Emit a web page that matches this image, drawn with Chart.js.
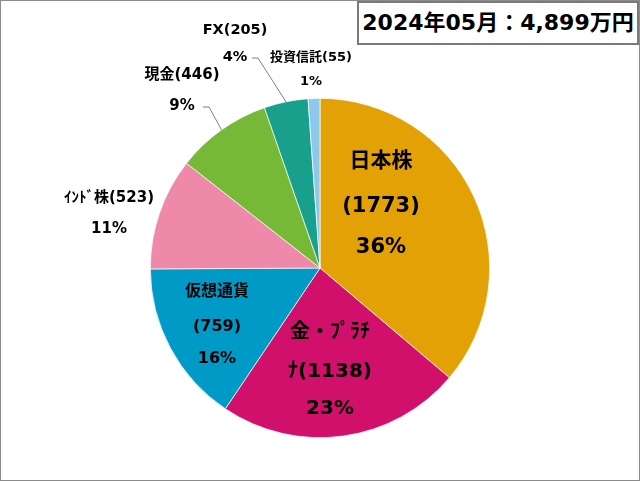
<!DOCTYPE html>
<html>
<head>
<meta charset="utf-8">
<script src="https://cdn.jsdelivr.net/npm/chart.js@4"></script>
<style>
    body { margin: 0; background: #fff; }
    #frame {
        position: relative; width: 640px; height: 481px; box-sizing: border-box;
        border: 1px solid #8c8c8c; background: #fff;
    }
    #chart { position: absolute; left: 0; top: 0; }
    #title {
        position: absolute; left: 356px; top: 0px; width: 282px; height: 44px; box-sizing: border-box;
        border: 2px solid #7a7a7a; background: #fff;
        font: bold 22px 'DejaVu Sans', 'Noto Sans CJK JP', sans-serif; color: #000;
        text-align: center; line-height: 40px; white-space: nowrap;
    }
</style>
</head>
<body>
<div id="frame">
    <canvas id="chart" width="638" height="479"></canvas>
    <div id="title"></div>
</div>
<script>
// dati
const categories = ['日本株', '金・ﾌﾟﾗﾁﾅ', '仮想通貨', 'ｲﾝﾄﾞ株', '現金', 'FX', '投資信託'];
const values = [1773, 1138, 759, 523, 446, 205, 55];
const percents = [36, 23, 16, 11, 9, 4, 1];
const titleMonth = '2024年05月';
const titleTotal = '4,899万円';

const colors = ['#E2A104', '#D0106A', '#009AC6', '#EE89A9', '#75B936', '#18A08C', '#8DC9EC'];

document.getElementById('title').textContent = `${titleMonth}：${titleTotal}`;

// posizione delle etichette rispetto al centro della torta (px), split = a capo dopo n caratteri
const labelLayout = [
    { dx: 61, ys: [-106, -61, -20], size: 21, split: 3 },
    { dx: 10, ys: [65, 104, 141], size: 20, split: 6 },
    { dx: -103, ys: [24, 59, 91], size: 16, split: 4 },
    { dx: -211, ys: [-70, -39], size: 15 },
    { dx: -138, ys: [-193, -162], size: 15, pctDx: 0, leader: [[-117, -161], [-111, -161]] },
    { dx: -85, ys: [-238, -211], size: 14.5, leader: [[-68, -210], [-62, -210]] },
    { dx: -9, ys: [-210, -186], size: 13 }
];

const labelPlugin = {
    id: 'sliceLabels',
    afterDatasetsDraw(chart) {
        const c = chart.ctx;
        const arcs = chart.getDatasetMeta(0).data;
        c.save();
        c.fillStyle = '#000';
        c.textAlign = 'center';
        c.textBaseline = 'middle';
        arcs.forEach((arc, i) => {
            const p = arc.getProps(['x', 'y', 'startAngle', 'endAngle', 'outerRadius'], true);
            const lay = labelLayout[i];
            const name = categories[i];
            let lines;
            if (lay.split) {
                lines = [name.slice(0, lay.split), name.slice(lay.split) + `(${values[i]})`, `${percents[i]}%`];
            } else {
                lines = [`${name}(${values[i]})`, `${percents[i]}%`];
            }
            c.font = `bold ${lay.size}px 'DejaVu Sans', 'Noto Sans CJK JP', sans-serif`;
            lines.forEach((t, k) => c.fillText(t, p.x + lay.dx, p.y + lay.ys[k]));

            if (lay.leader) {
                const mid = (p.startAngle + p.endAngle) / 2;
                c.strokeStyle = '#7f7f7f';
                c.lineWidth = 1;
                c.beginPath();
                c.moveTo(p.x + lay.leader[0][0], p.y + lay.leader[0][1]);
                c.lineTo(p.x + lay.leader[1][0], p.y + lay.leader[1][1]);
                c.lineTo(p.x + Math.cos(mid) * p.outerRadius, p.y + Math.sin(mid) * p.outerRadius);
                c.stroke();
            }
        });
        c.restore();
    }
};

const ctx = document.getElementById('chart').getContext('2d');
const pieChart = new Chart(ctx, {
    type: 'pie',
    data: {
        labels: categories,
        datasets: [{
            data: values,
            backgroundColor: colors,
            borderColor: '#ffffff',
            borderWidth: 0.7
        }]
    },
    options: {
        responsive: false,
        animation: false,
        devicePixelRatio: 1,
        layout: { padding: { top: 97, bottom: 42, left: 149, right: 149 } },
        plugins: {
            legend: { display: false },
            tooltip: { enabled: false }
        }
    },
    plugins: [labelPlugin]
});
</script>
</body>
</html>
